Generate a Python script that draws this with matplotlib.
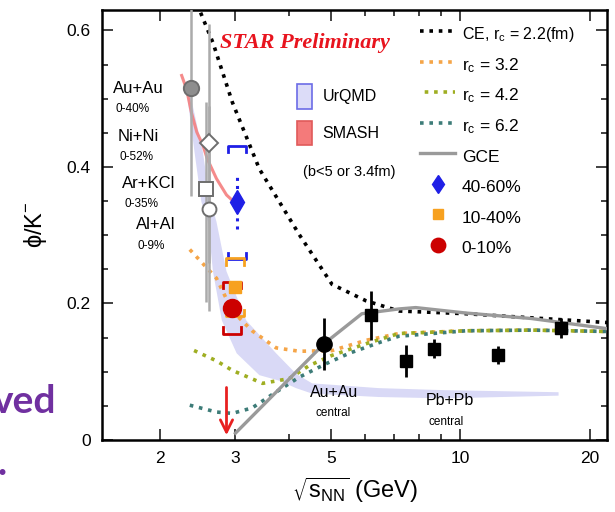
import numpy as np
import matplotlib
matplotlib.use("Agg")
import matplotlib.pyplot as plt
import matplotlib.ticker as mticker
from matplotlib.patches import Patch

plt.rcParams["font.family"] = ["Liberation Sans", "DejaVu Sans"]
plt.rcParams["mathtext.default"] = "regular"

# -----------------------------------------------------------------------------
# Datos
# -----------------------------------------------------------------------------
# CE / GCE (modelo termico)
ce22_x = [2.49, 2.66, 2.95, 3.41, 4.22, 5.03, 6.03, 7.19, 10.3, 14.6, 22.0]
ce22_y = [0.626, 0.582, 0.495, 0.397, 0.301, 0.228, 0.204, 0.189, 0.185, 0.179, 0.172]

ce32_x = [2.35, 2.71, 2.95, 3.28, 3.73, 4.22, 5.03, 6.03, 7.19, 10.3, 14.6, 22.0]
ce32_y = [0.279, 0.237, 0.189, 0.160, 0.135, 0.130, 0.131, 0.146, 0.156, 0.160, 0.161, 0.159]

ce42_x = [2.35, 2.71, 2.95, 3.47, 4.0, 4.45, 5.03, 6.03, 7.19, 10.3, 14.6, 22.0]
ce42_y = [0.134, 0.116, 0.102, 0.083, 0.090, 0.109, 0.124, 0.141, 0.156, 0.160, 0.161, 0.159]

ce62_x = [2.35, 2.71, 2.95, 3.28, 3.66, 4.22, 4.88, 5.51, 6.56, 7.19, 10.3, 14.6, 22.0]
ce62_y = [0.051, 0.041, 0.039, 0.047, 0.067, 0.092, 0.112, 0.127, 0.144, 0.152, 0.160, 0.161, 0.159]

gce_x = [3.0, 4.82, 5.90, 7.19, 7.87, 10.3, 14.6, 22.0]
gce_y = [0.010, 0.141, 0.185, 0.192, 0.194, 0.186, 0.178, 0.163]

# UrQMD (banda) y SMASH
urqmd_up_x = [2.30, 2.37, 2.52, 2.61, 2.71, 2.86, 3.18, 3.73, 4.15, 4.52, 6.46, 9.24, 16.9]
urqmd_up_y = [0.519, 0.499, 0.422, 0.356, 0.320, 0.247, 0.175, 0.127, 0.097, 0.083, 0.076, 0.073, 0.070]
urqmd_lo_x = [2.32, 2.41, 2.50, 2.59, 2.66, 2.79, 3.02, 3.41, 3.79, 4.15, 4.52, 6.46, 9.24, 16.9]
urqmd_lo_y = [0.502, 0.422, 0.349, 0.320, 0.247, 0.175, 0.127, 0.095, 0.087, 0.076, 0.068, 0.063, 0.061, 0.065]

smash_x = [2.25, 2.31, 2.37, 2.44, 2.52, 2.58, 2.71, 2.86, 3.01]
smash_y = [0.534, 0.514, 0.480, 0.451, 0.432, 0.412, 0.383, 0.359, 0.346]

# HADES / otros sistemas (gris)
hades_lbl = ["Au+Au", "Ni+Ni", "Ar+KCl", "Al+Al"]
hades_x = [2.36, 2.60, 2.56, 2.60]
hades_y = [0.515, 0.435, 0.367, 0.339]
hades_lo = [0.157, 0.175, 0.165, 0.150]
hades_hi = [0.157, 0.175, 0.128, 0.150]

# STAR 3 GeV
star_lbl = ["40-60%", "10-40%", "0-10%"]
star_x = [3.03, 2.99, 2.95]
star_y = [0.348, 0.224, 0.194]
star_stat = [0.039, 0.004, 0.004]
star_sys = [0.083, 0.042, 0.038]

# E917 / NA49 (negro)
blk_circ_x = [4.82]
blk_circ_y = [0.140]
blk_circ_e = [0.038]
na49_x = [6.19, 7.46, 8.67, 12.2, 17.1]
na49_y = [0.183, 0.116, 0.134, 0.125, 0.164]
na49_e = [0.036, 0.023, 0.014, 0.013, 0.014]

# -----------------------------------------------------------------------------
# Figura
# -----------------------------------------------------------------------------
fig = plt.figure(figsize=(6.15, 5.12), dpi=100)
ax = fig.add_axes([0.166, 0.1406, 0.821, 0.840])
ax.set_xscale("log")

# banda UrQMD
ax.fill(urqmd_up_x + urqmd_lo_x[::-1], urqmd_up_y + urqmd_lo_y[::-1],
        color="#d9d9f6", lw=0, zorder=1)
ax.plot(smash_x, smash_y, color="#f47f7f", lw=2.2, zorder=2, alpha=0.9)

# curvas CE / GCE
dot = (0, (1, 1.6))
l_ce22, = ax.plot(ce22_x, ce22_y, color="black", lw=2.6, ls=dot, zorder=3)
l_ce32, = ax.plot(ce32_x, ce32_y, color="#f5a548", lw=2.6, ls=dot, zorder=3)
l_ce62, = ax.plot(ce62_x, ce62_y, color="#3d7c78", lw=2.6, ls=dot, zorder=3)
l_ce42, = ax.plot(ce42_x, ce42_y, color="#9fae22", lw=2.6, ls=(1.3, (1, 1.6)), zorder=3)
l_gce, = ax.plot(gce_x, gce_y, color="#9a9a9a", lw=2.4, zorder=3)

# puntos grises
gray_mk = [("o", "#8e8e8e", 11), ("D", "white", 9), ("s", "white", 10), ("o", "white", 10)]
for i in range(len(hades_x)):
    m, fc, ms = gray_mk[i]
    ax.errorbar(hades_x[i], hades_y[i], yerr=[[hades_lo[i]], [hades_hi[i]]],
                fmt=m, ms=ms, mfc=fc, mec="#6e6e6e", mew=1.4,
                ecolor="#ababab", elinewidth=1.8, zorder=4)

# STAR: sistematicos como corchetes
def corchete(x, y, d, c):
    f = 1.05
    h = 0.009
    ax.plot([x / f, x / f, x * f, x * f], [y + d - h, y + d, y + d, y + d - h],
            color=c, lw=2, zorder=5)
    ax.plot([x / f, x / f, x * f, x * f], [y - d + h, y - d, y - d, y - d + h],
            color=c, lw=2, zorder=5)

star_col = ["#1f1fe6", "#f7a11f", "#cc0000"]
star_mk = [("d", 12), ("s", 9), ("o", 13)]
star_h = []
for i in range(len(star_x)):
    corchete(star_x[i], star_y[i], star_sys[i], star_col[i])
    eb = ax.errorbar(star_x[i], star_y[i], yerr=star_stat[i], fmt=star_mk[i][0],
                     ms=star_mk[i][1], color=star_col[i], mec=star_col[i],
                     elinewidth=2.2, zorder=6)
    eb[2][0].set_linestyle(":")
    star_h.append(eb[0])

# puntos negros
ax.errorbar(blk_circ_x, blk_circ_y, yerr=blk_circ_e, fmt="o", ms=11, color="black",
            elinewidth=2, zorder=6)
ax.errorbar(na49_x, na49_y, yerr=na49_e, fmt="s", ms=9, color="black",
            elinewidth=2, zorder=6)

# flecha roja
ax.annotate("", xy=(2.86, 0.003), xytext=(2.86, 0.081),
            arrowprops=dict(arrowstyle="->", color="#e82020", lw=2, mutation_scale=22),
            zorder=6)

# -----------------------------------------------------------------------------
# Ejes
# -----------------------------------------------------------------------------
ax.set_xlim(1.47, 21.9)
ax.set_ylim(0, 0.63)
ax.xaxis.set_major_locator(mticker.FixedLocator([2, 3, 5, 10, 20]))
ax.xaxis.set_major_formatter(mticker.FixedFormatter(["2", "3", "5", "10", "20"]))
ax.xaxis.set_minor_locator(mticker.FixedLocator([4, 6, 7, 8, 9]))
ax.xaxis.set_minor_formatter(mticker.NullFormatter())
ax.yaxis.set_major_locator(mticker.FixedLocator([0, 0.2, 0.4, 0.6]))
ax.yaxis.set_major_formatter(mticker.FixedFormatter(["0", "0.2", "0.4", "0.6"]))
ax.yaxis.set_minor_locator(mticker.MultipleLocator(0.05))
ax.tick_params(which="both", direction="in", top=True, right=True, width=1.3, colors="#333333")
ax.tick_params(which="major", length=8, labelsize=12.5, pad=8, labelcolor="black")
ax.tick_params(which="minor", length=4)
for s in ax.spines.values():
    s.set_linewidth(1.8)

ax.set_xlabel(r"$\sqrt{s_{NN}}$ (GeV)", fontsize=17)
ax.xaxis.set_label_coords(0.5, -0.082)
ax.set_ylabel(r"$\phi/K^{-}$", fontsize=17)
ax.yaxis.set_label_coords(-0.105, 0.5)

# -----------------------------------------------------------------------------
# Textos
# -----------------------------------------------------------------------------
ax.text(0.234, 0.923, "STAR Preliminary", transform=ax.transAxes, color="#e8141e",
        fontsize=16, fontweight="bold", fontstyle="italic", family="Liberation Serif",
        va="center")

cent = ["0-40%", "0-52%", "0-35%", "0-9%"]
lbl_pos = [(0.022, 0.818), (0.030, 0.705), (0.040, 0.597), (0.067, 0.500)]
for i in range(len(hades_lbl)):
    ax.text(lbl_pos[i][0], lbl_pos[i][1], hades_lbl[i], transform=ax.transAxes,
            fontsize=12, va="center")
    ax.text(lbl_pos[i][0] + 0.004, lbl_pos[i][1] - 0.048, cent[i],
            transform=ax.transAxes, fontsize=8.5, va="center")

ax.text(0.460, 0.110, "Au+Au", transform=ax.transAxes, fontsize=11.5, ha="center", va="center")
ax.text(0.458, 0.063, "central", transform=ax.transAxes, fontsize=8.5, ha="center", va="center")
ax.text(0.689, 0.093, "Pb+Pb", transform=ax.transAxes, fontsize=11.5, ha="center", va="center")
ax.text(0.681, 0.042, "central", transform=ax.transAxes, fontsize=8.5, ha="center", va="center")
ax.text(0.398, 0.623, "(b<5 or 3.4fm)", transform=ax.transAxes, fontsize=10.5, va="center")

# leyenda principal
leg1 = ax.legend([l_ce22, l_ce32, l_ce42, l_ce62, l_gce] + star_h,
                 [r"CE, r$_c$ = 2.2(fm)", r"r$_c$ = 3.2", r"r$_c$ = 4.2", r"r$_c$ = 6.2", "GCE"] + star_lbl,
                 loc="upper left", bbox_to_anchor=(0.630, 0.970), frameon=False,
                 fontsize=12.5, handlelength=2.0, handleheight=1.5, handletextpad=0.4,
                 labelspacing=0.54, borderpad=0, borderaxespad=0, numpoints=1,
                 markerscale=0.8)
leg1.get_texts()[0].set_fontsize(11.5)
ax.add_artist(leg1)

# leyenda modelos
mod_h = [Patch(facecolor="#dcdcf8", edgecolor="#6c6ce6", lw=1.2),
         Patch(facecolor="#f47a7a", edgecolor="#e05a5a", lw=1.2)]
ax.legend(mod_h, ["UrQMD", "SMASH"], loc="upper left", bbox_to_anchor=(0.386, 0.828),
          frameon=False, fontsize=11.5, handlelength=0.95, handleheight=2.0,
          handletextpad=0.65, labelspacing=0.75, borderpad=0, borderaxespad=0)

# texto de la diapositiva (cortado a la izquierda)
fig.text(-0.012, 0.193, "ved", color="#7030a0", fontsize=28, fontweight="bold",
         family="Lato", va="baseline")
fig.text(-0.004, 0.072, ".", color="#7030a0", fontsize=28, fontweight="bold",
         family="Lato", va="baseline")

fig.savefig("out.png", dpi=100)
